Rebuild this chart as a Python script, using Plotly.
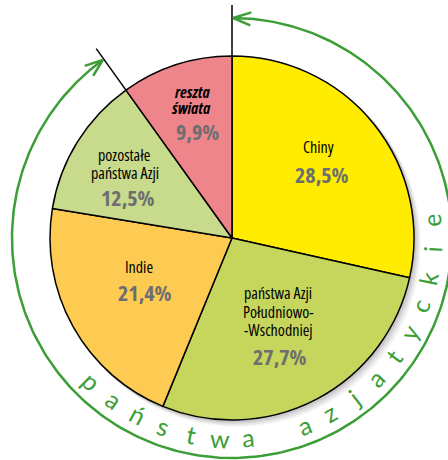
import numpy as np
import plotly.graph_objects as go

# ---- data ----
categories = ["Chiny", "państwa Azji Południowo-Wschodniej", "Indie",
              "pozostałe państwa Azji", "reszta świata"]
values = [28.5, 27.7, 21.4, 12.5, 9.9]
value_labels = ["28,5%", "27,7%", "21,4%", "12,5%", "9,9%"]
label_lines = [["Chiny"], ["państwa Azji", "Południowo-", "-Wschodniej"], ["Indie"],
               ["pozostałe", "państwa Azji"], ["reszta", "świata"]]
asian_count = 4  # first four slices are Asian countries
arc_text = "państwa azjatyckie"

# ---- styling / geometry ----
colors = ["#FFEC00", "#C6D65C", "#FECB52", "#C8DA8B", "#EE858B"]
W, H = 448, 460
CX, CY, R = 232, 238, 182
ARC_R = 220
LINE_LEN = 233
GREEN = "#3C9E36"
FONT = "Open Sans, DejaVu Sans Condensed, sans-serif"
PCT_GRAY = "#6D6E71"
COND = "font-stretch:75%"

# label line positions (x, y of each line) and percent positions, pixel coords
line_pos = [[(318, 147)],
            [(278, 293), (278, 312), (278, 330)],
            [(139, 267)],
            [(124, 155), (125, 173)],
            [(192, 92), (191, 108)]]
pct_pos = [(322, 174), (280, 356), (145, 292), (128, 197), (197, 131)]

fig = go.Figure()

# pie itself
fig.add_trace(go.Pie(
    labels=categories, values=values, sort=False, direction="clockwise", rotation=0,
    marker=dict(colors=colors, line=dict(color="black", width=1.5)),
    textinfo="none", hoverinfo="label+percent", showlegend=False,
    domain=dict(x=[(CX - R) / W, (CX + R) / W], y=[1 - (CY + R) / H, 1 - (CY - R) / H]),
))

def pt(theta_deg, r):
    t = np.radians(theta_deg)
    return CX + r * np.sin(t), CY - r * np.cos(t)

# boundary angles from data
total = sum(values)
asian_share = sum(values[:asian_count]) / total
end_angle = 360 * asian_share

# black boundary lines extending out of the pie
for ang in [0.0, end_angle]:
    x1, y1 = pt(ang, LINE_LEN)
    fig.add_trace(go.Scatter(x=[CX, x1], y=[CY, y1], mode="lines",
                             line=dict(color="black", width=1.5),
                             hoverinfo="skip", showlegend=False))

# green arc
th = np.linspace(0.3, end_angle - 0.3, 300)
ax_, ay_ = pt(th, ARC_R)
fig.add_trace(go.Scatter(x=ax_, y=ay_, mode="lines", line=dict(color=GREEN, width=2.5),
                         hoverinfo="skip", showlegend=False))
# arrow heads
for tip, sign in [(0.3, 1), (end_angle - 0.3, -1)]:
    xa, ya = pt(tip + sign * 4.6, ARC_R + 6.5)
    xt, yt = pt(tip, ARC_R)
    xb, yb = pt(tip + sign * 4.6, ARC_R - 6.5)
    fig.add_trace(go.Scatter(x=[xa, xt, xb], y=[ya, yt, yb], mode="lines",
                             line=dict(color=GREEN, width=2.5),
                             hoverinfo="skip", showlegend=False))

annotations = []
# slice labels
for i, lines in enumerate(label_lines):
    for ln, (lx, ly) in zip(lines, line_pos[i]):
        txt = f"<span style='{COND}'>{ln}</span>"
        if i == 4:
            txt = "<b><i>" + txt + "</i></b>"
        annotations.append(dict(x=lx, y=ly, xref="x", yref="y",
                                text=txt, showarrow=False, xanchor="center", yanchor="middle",
                                font=dict(family=FONT, size=16, color="black")))
    annotations.append(dict(x=pct_pos[i][0], y=pct_pos[i][1], xref="x", yref="y",
                            text=f"<b><span style='{COND}'>{value_labels[i]}</span></b>",
                            showarrow=False, xanchor="center", yanchor="middle",
                            font=dict(family=FONT, size=22, color=PCT_GRAY)))

# curved text along the bottom
start_theta, step = 224.5, 8.2
for k, ch in enumerate(arc_text):
    if ch == " ":
        continue
    theta = start_theta - k * step
    x, y = pt(theta, 200)
    annotations.append(dict(x=x, y=y, xref="x", yref="y", text=ch, showarrow=False,
                            textangle=theta - 180, xanchor="center", yanchor="middle",
                            font=dict(family="Lato, Open Sans, sans-serif", size=25,
                                      color=GREEN)))

# soft shadow behind pie
shapes = []
for i, (off, a) in enumerate([(6, 0.04), (4.5, 0.05), (3, 0.06), (1.5, 0.08)]):
    shapes.append(dict(type="circle", xref="x", yref="y", layer="below",
                       x0=CX - R + off - 1, x1=CX + R + off + 1,
                       y0=CY - R + off - 1, y1=CY + R + off + 1,
                       fillcolor=f"rgba(0,0,0,{a})", line=dict(width=0)))

fig.update_layout(
    width=W, height=H, margin=dict(l=0, r=0, t=0, b=0),
    paper_bgcolor="white", plot_bgcolor="rgba(0,0,0,0)",
    xaxis=dict(range=[0, W], visible=False, fixedrange=True),
    yaxis=dict(range=[H, 0], visible=False, fixedrange=True),
    annotations=annotations, shapes=shapes, showlegend=False,
)

fig.write_html("out.html", config={"displayModeBar": False},
               post_script="document.body.style.margin='0';document.body.style.overflow='hidden';")
